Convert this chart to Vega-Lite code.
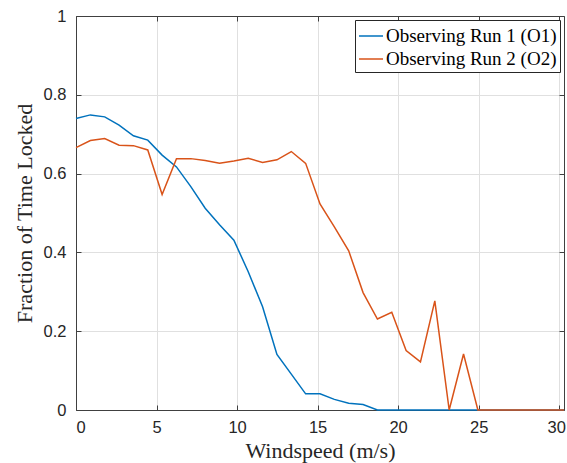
{
  "$schema": "https://vega.github.io/schema/vega-lite/v6.json",
  "width": 488,
  "height": 394,
  "autosize": {"type": "none"},
  "padding": {"left": 76, "top": 16, "right": 3, "bottom": 53},
  "background": "white",
  "config": {
    "view": {"stroke": null},
    "axis": {
      "domainColor": "#404040",
      "domainWidth": 1,
      "tickColor": "#404040",
      "tickSize": -5,
      "tickWidth": 1,
      "labelFont": "Liberation Sans",
      "labelFontSize": 16.5,
      "labelColor": "#262626",
      "titleFont": "Liberation Serif",
      "titleFontSize": 22,
      "titleFontWeight": "normal",
      "titleColor": "#262626",
      "gridColor": "#e0e0e0",
      "gridWidth": 1
    },
    "legend": {
      "orient": "top-right",
      "offset": 4,
      "strokeColor": "#262626",
      "fillColor": "white",
      "padding": 3,
      "symbolType": "stroke",
      "symbolSize": 576,
      "symbolStrokeWidth": 1.5,
      "labelFont": "Liberation Serif",
      "labelFontSize": 19,
      "labelColor": "#000000",
      "labelOffset": 2,
      "rowPadding": 0,
      "labelLimit": 400
    }
  },
  "data": {
    "values": [
      {"x": 0, "v": 0.740, "run": "Observing Run 1 (O1)"},
      {"x": 0.891, "v": 0.749, "run": "Observing Run 1 (O1)"},
      {"x": 1.782, "v": 0.744, "run": "Observing Run 1 (O1)"},
      {"x": 2.674, "v": 0.723, "run": "Observing Run 1 (O1)"},
      {"x": 3.565, "v": 0.696, "run": "Observing Run 1 (O1)"},
      {"x": 4.456, "v": 0.685, "run": "Observing Run 1 (O1)"},
      {"x": 5.347, "v": 0.647, "run": "Observing Run 1 (O1)"},
      {"x": 6.238, "v": 0.617, "run": "Observing Run 1 (O1)"},
      {"x": 7.129, "v": 0.567, "run": "Observing Run 1 (O1)"},
      {"x": 8.021, "v": 0.512, "run": "Observing Run 1 (O1)"},
      {"x": 8.912, "v": 0.470, "run": "Observing Run 1 (O1)"},
      {"x": 9.803, "v": 0.431, "run": "Observing Run 1 (O1)"},
      {"x": 10.694, "v": 0.351, "run": "Observing Run 1 (O1)"},
      {"x": 11.585, "v": 0.262, "run": "Observing Run 1 (O1)"},
      {"x": 12.476, "v": 0.141, "run": "Observing Run 1 (O1)"},
      {"x": 13.368, "v": 0.091, "run": "Observing Run 1 (O1)"},
      {"x": 14.259, "v": 0.041, "run": "Observing Run 1 (O1)"},
      {"x": 15.15, "v": 0.041, "run": "Observing Run 1 (O1)"},
      {"x": 16.041, "v": 0.027, "run": "Observing Run 1 (O1)"},
      {"x": 16.932, "v": 0.017, "run": "Observing Run 1 (O1)"},
      {"x": 17.824, "v": 0.014, "run": "Observing Run 1 (O1)"},
      {"x": 18.715, "v": 0, "run": "Observing Run 1 (O1)"},
      {"x": 19.606, "v": 0, "run": "Observing Run 1 (O1)"},
      {"x": 20.497, "v": 0, "run": "Observing Run 1 (O1)"},
      {"x": 21.388, "v": 0, "run": "Observing Run 1 (O1)"},
      {"x": 22.279, "v": 0, "run": "Observing Run 1 (O1)"},
      {"x": 23.171, "v": 0, "run": "Observing Run 1 (O1)"},
      {"x": 24.062, "v": 0, "run": "Observing Run 1 (O1)"},
      {"x": 24.953, "v": 0, "run": "Observing Run 1 (O1)"},
      {"x": 25.844, "v": 0, "run": "Observing Run 1 (O1)"},
      {"x": 26.735, "v": 0, "run": "Observing Run 1 (O1)"},
      {"x": 27.626, "v": 0, "run": "Observing Run 1 (O1)"},
      {"x": 28.518, "v": 0, "run": "Observing Run 1 (O1)"},
      {"x": 29.409, "v": 0, "run": "Observing Run 1 (O1)"},
      {"x": 30.3, "v": 0, "run": "Observing Run 1 (O1)"},
      {"x": 0, "v": 0.666, "run": "Observing Run 2 (O2)"},
      {"x": 0.891, "v": 0.684, "run": "Observing Run 2 (O2)"},
      {"x": 1.782, "v": 0.689, "run": "Observing Run 2 (O2)"},
      {"x": 2.674, "v": 0.672, "run": "Observing Run 2 (O2)"},
      {"x": 3.565, "v": 0.671, "run": "Observing Run 2 (O2)"},
      {"x": 4.456, "v": 0.660, "run": "Observing Run 2 (O2)"},
      {"x": 5.347, "v": 0.547, "run": "Observing Run 2 (O2)"},
      {"x": 6.238, "v": 0.638, "run": "Observing Run 2 (O2)"},
      {"x": 7.129, "v": 0.638, "run": "Observing Run 2 (O2)"},
      {"x": 8.021, "v": 0.633, "run": "Observing Run 2 (O2)"},
      {"x": 8.912, "v": 0.626, "run": "Observing Run 2 (O2)"},
      {"x": 9.803, "v": 0.632, "run": "Observing Run 2 (O2)"},
      {"x": 10.694, "v": 0.639, "run": "Observing Run 2 (O2)"},
      {"x": 11.585, "v": 0.628, "run": "Observing Run 2 (O2)"},
      {"x": 12.476, "v": 0.635, "run": "Observing Run 2 (O2)"},
      {"x": 13.368, "v": 0.656, "run": "Observing Run 2 (O2)"},
      {"x": 14.259, "v": 0.626, "run": "Observing Run 2 (O2)"},
      {"x": 15.15, "v": 0.523, "run": "Observing Run 2 (O2)"},
      {"x": 16.041, "v": 0.465, "run": "Observing Run 2 (O2)"},
      {"x": 16.932, "v": 0.404, "run": "Observing Run 2 (O2)"},
      {"x": 17.824, "v": 0.298, "run": "Observing Run 2 (O2)"},
      {"x": 18.715, "v": 0.231, "run": "Observing Run 2 (O2)"},
      {"x": 19.606, "v": 0.248, "run": "Observing Run 2 (O2)"},
      {"x": 20.497, "v": 0.151, "run": "Observing Run 2 (O2)"},
      {"x": 21.388, "v": 0.122, "run": "Observing Run 2 (O2)"},
      {"x": 22.279, "v": 0.277, "run": "Observing Run 2 (O2)"},
      {"x": 23.171, "v": 0, "run": "Observing Run 2 (O2)"},
      {"x": 24.062, "v": 0.142, "run": "Observing Run 2 (O2)"},
      {"x": 24.953, "v": 0, "run": "Observing Run 2 (O2)"},
      {"x": 25.844, "v": 0, "run": "Observing Run 2 (O2)"},
      {"x": 26.735, "v": 0, "run": "Observing Run 2 (O2)"},
      {"x": 27.626, "v": 0, "run": "Observing Run 2 (O2)"},
      {"x": 28.518, "v": 0, "run": "Observing Run 2 (O2)"},
      {"x": 29.409, "v": 0, "run": "Observing Run 2 (O2)"},
      {"x": 30.3, "v": 0, "run": "Observing Run 2 (O2)"}
    ]
  },
  "layer": [
    {
      "mark": {"type": "line", "opacity": 0},
      "encoding": {
        "x": {"field": "x", "type": "quantitative", "scale": {"domain": [0, 30.3], "nice": false, "zero": false},
              "axis": {"orient": "top", "labels": false, "title": null, "grid": false, "values": [0, 5, 10, 15, 20, 25, 30]}},
        "y": {"field": "v", "type": "quantitative", "scale": {"domain": [0, 1], "nice": false},
              "axis": {"orient": "right", "labels": false, "title": null, "grid": false, "values": [0, 0.2, 0.4, 0.6, 0.8, 1]}},
        "detail": {"field": "run"}
      }
    },
    {
      "mark": {"type": "line", "strokeWidth": 1.5, "clip": false},
      "encoding": {
        "x": {"field": "x", "type": "quantitative", "scale": {"domain": [0, 30.3], "nice": false, "zero": false},
              "axis": {"orient": "bottom", "title": "Windspeed (m/s)", "grid": true, "values": [0, 5, 10, 15, 20, 25, 30], "labelPadding": 14, "titlePadding": 5,
                       "labelOffset": {"condition": {"test": "datum.value == 30", "value": -3}, "value": 0}}},
        "y": {"field": "v", "type": "quantitative", "scale": {"domain": [0, 1], "nice": false},
              "axis": {"orient": "left", "title": "Fraction of Time Locked", "grid": true, "values": [0, 0.2, 0.4, 0.6, 0.8, 1], "labelPadding": 15, "titlePadding": 7, "labelExpr": "datum.value == 0 ? '0' : datum.value == 1 ? '1' : format(datum.value, '.1f')"}},
        "color": {"field": "run", "type": "nominal", "title": null,
                  "scale": {"domain": ["Observing Run 1 (O1)", "Observing Run 2 (O2)"], "range": ["#0072BD", "#D95319"]}}
      }
    }
  ],
  "resolve": {"axis": {"x": "independent", "y": "independent"}}
}
